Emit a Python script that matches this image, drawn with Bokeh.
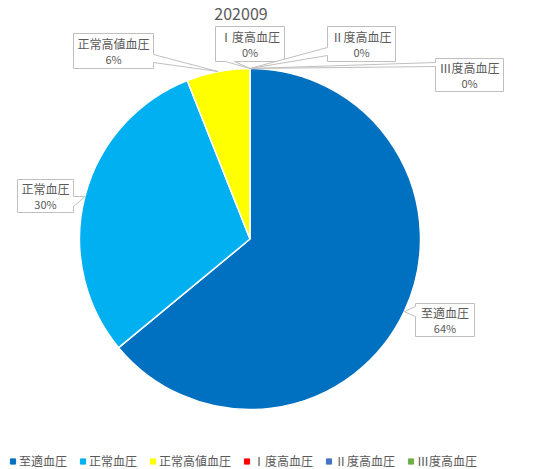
import numpy as np
from bokeh.plotting import figure
from bokeh.models import ColumnDataSource, Range1d, Legend, LegendItem
from bokeh.core.properties import value
from bokeh.embed import file_html
from bokeh.resources import INLINE

# data
title = "202009"
categories = ["至適血圧", "正常血圧", "正常高値血圧", "Ⅰ度高血圧", "Ⅱ度高血圧", "Ⅲ度高血圧"]
percents = [64, 30, 6, 0, 0, 0]
colors = ["#0070C0", "#00B0F0", "#FFFF00", "#FF0000", "#4472C4", "#70AD47"]

FONT = "Noto Sans CJK JP"
TXT = "#595959"
W, H = 534, 469

def sy(y):
    return H - y

# label boxes: left, top, right, bottom, tail side, tail base start/end (screen px)
boxes = [
    (415, 303, 474, 336, "left", 306, 316),
    (17, 179, 73, 212, "right", 196, 206),
    (73, 33, 153, 68, "right", 54, 62),
    (215, 26, 284, 61, "bottom", 225, 234),
    (327, 26, 395, 61, "left", 47, 55),
    (435, 58, 503, 91, "left", 62, 66),
]

cx, cy, rad = 249.5, sy(238.5), 170.5

def main():
    p = figure(width=W, height=H, output_backend="svg", toolbar_location=None,
               x_range=Range1d(0, W), y_range=Range1d(0, H),
               min_border=0)
    p.axis.visible = False
    p.grid.visible = False
    p.outline_line_color = None

    frac = np.array(percents, dtype=float) / sum(percents)
    cum = np.concatenate([[0], np.cumsum(frac)])
    start = np.pi / 2 - cum[:-1] * 2 * np.pi
    end = np.pi / 2 - cum[1:] * 2 * np.pi
    nz = [i for i, v in enumerate(percents) if v > 0]
    src = ColumnDataSource(dict(start=[start[i] for i in nz], end=[end[i] for i in nz],
                                color=[colors[i] for i in nz]))
    p.wedge(x=cx, y=cy, radius=rad, start_angle="start", end_angle="end",
            direction="clock", fill_color="color", line_color="white",
            line_width=1.5, source=src)

    # callouts
    mid = (start + end) / 2
    xs, ys, tx, ty1, ty2 = [], [], [], [], []
    for i, (l, t, r, b, side, a0, a1) in enumerate(boxes):
        tipx = cx + rad * np.cos(mid[i])
        tipy = cy + rad * np.sin(mid[i])
        if side == "right":
            pts = [(l, t), (r, t), (r, a0), None, (r, a1), (r, b), (l, b)]
        elif side == "bottom":
            pts = [(l, t), (r, t), (r, b), (a1, b), None, (a0, b), (l, b)]
        else:
            pts = [(l, t), (r, t), (r, b), (l, b), (l, a1), None, (l, a0)]
        px, py = [], []
        for pt in pts:
            if pt is None:
                px.append(tipx)
                py.append(tipy)
            else:
                px.append(pt[0])
                py.append(sy(pt[1]))
        xs.append(px)
        ys.append(py)
        tx.append((l + r) / 2)
        ty1.append(sy((t + b) / 2 - 7.5))
        ty2.append(sy((t + b) / 2 + 8))
    p.patches(xs, ys, fill_color="white", line_color="#BFBFBF", line_width=1)
    p.text(x=tx, y=ty1, text=categories, text_font=value(FONT), text_font_size="12px",
           text_color=TXT, text_align="center", text_baseline="middle")
    p.text(x=tx, y=ty2, text=[f"{v}%" for v in percents], text_font=value(FONT),
           text_font_size="11px", text_color=TXT, text_align="center", text_baseline="middle")

    p.text(x=[240.5], y=[sy(13)], text=[title], text_font=value(FONT), text_font_size="16px",
           text_color=TXT, text_align="center", text_baseline="middle")

    # legend (dummy points outside the view so the glyphs show in the legend)
    items = []
    for name, c in zip(categories, colors):
        r = p.scatter(x=[-100], y=[-100], marker="square", fill_color=c, line_color=c)
        items.append(LegendItem(label=value(name), renderers=[r]))
    legend = Legend(items=items, orientation="horizontal", location=(6, 0),
                    glyph_width=13, glyph_height=14, label_standoff=0, spacing=9,
                    padding=0, margin=0, border_line_alpha=0, background_fill_alpha=0,
                    label_text_font=FONT, label_text_font_size="12px",
                    label_text_color=TXT, label_height=14)
    p.add_layout(legend)

    open("out.html", "w").write(file_html(p, INLINE))

if __name__ == '__main__':
    main()
